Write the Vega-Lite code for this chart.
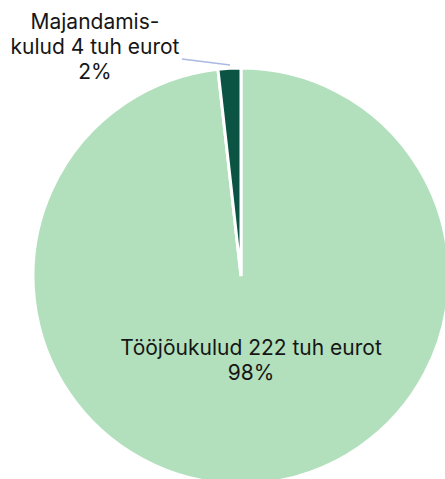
{
  "$schema": "https://vega.github.io/schema/vega-lite/v6.json",
  "width": 416,
  "height": 416,
  "autosize": {"type": "none"},
  "padding": {"left": 33, "top": 68, "right": 0, "bottom": 0},
  "background": "white",
  "config": {"view": {"stroke": null}, "font": "Inter"},
  "datasets": {
    "slices": [
      {"kategooria": "Tööjõukulud", "summa": 222, "jrk": 1},
      {"kategooria": "Majandamiskulud", "summa": 4, "jrk": 2}
    ],
    "labels": [
      {"tekst": ["Tööjõukulud 222 tuh eurot", "98%"], "x": 0.048, "y": -0.35},
      {"tekst": ["Majandamis-", "kulud 4 tuh eurot", "2%"], "x": -0.702, "y": 1.216}
    ],
    "leader": [
      {"x1": -0.284, "y1": 1.043, "x2": -0.053, "y2": 1.014}
    ]
  },
  "layer": [
    {
      "data": {"name": "slices"},
      "mark": {"type": "arc", "outerRadius": 208, "stroke": "white", "strokeWidth": 3},
      "encoding": {
        "theta": {"field": "summa", "type": "quantitative", "stack": true},
        "order": {"field": "jrk", "type": "quantitative"},
        "color": {
          "field": "kategooria",
          "type": "nominal",
          "scale": {"domain": ["Tööjõukulud", "Majandamiskulud"], "range": ["#b2e0bc", "#0b5443"]},
          "legend": null
        }
      }
    },
    {
      "data": {"name": "leader"},
      "mark": {"type": "rule", "color": "#a9b9e3", "strokeWidth": 1.5},
      "encoding": {
        "x": {"field": "x1", "type": "quantitative", "scale": {"domain": [-1, 1]}, "axis": null},
        "y": {"field": "y1", "type": "quantitative", "scale": {"domain": [-1, 1]}, "axis": null},
        "x2": {"field": "x2"},
        "y2": {"field": "y2"}
      }
    },
    {
      "data": {"name": "labels"},
      "mark": {"type": "text", "font": "Inter", "fontSize": 21, "lineHeight": 25, "align": "center", "baseline": "middle", "color": "#161616"},
      "encoding": {
        "x": {"field": "x", "type": "quantitative", "scale": {"domain": [-1, 1]}, "axis": null},
        "y": {"field": "y", "type": "quantitative", "scale": {"domain": [-1, 1]}, "axis": null},
        "text": {"field": "tekst"}
      }
    }
  ]
}
